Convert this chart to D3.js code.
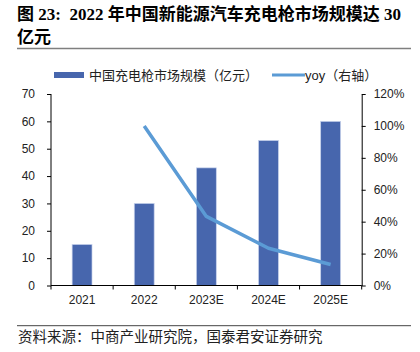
<!DOCTYPE html>
<html>
<head>
<meta charset="utf-8">
<script src="https://cdn.jsdelivr.net/npm/d3@7"></script>
<style>
  body { margin: 0; background: #fff; }
  svg text { font-family: "Liberation Sans", Arial, "Noto Sans CJK SC", sans-serif; }
  .axis path, .axis line { stroke: #000; }
  .axis text { font-size: 12px; fill: #222; }
</style>
</head>
<body>
<div id="chart"></div>
<script>
const years = ['2021', '2022', '2023E', '2024E', '2025E'];
const marketSize = [15, 30, 43, 53, 60];          // 亿元
const yoy = [null, 100, 43.3, 23.3, 13.2];        // %
const leftTicks = [0, 10, 20, 30, 40, 50, 60, 70];
const rightTicks = [0, 20, 40, 60, 80, 100, 120];

const width = 420, height = 352;
const plot = { left: 51, right: 361.7, top: 94, bottom: 285.5 };

const svg = d3.select('#chart').append('svg')
    .attr('width', width)
    .attr('height', height);

// title
const title = svg.append('text')
    .attr('font-weight', 'bold')
    .attr('font-size', '17px')
    .attr('fill', '#000')
    .style('white-space', 'pre')
    .style('font-family', '"Liberation Serif", "Noto Sans CJK SC", serif');
title.append('tspan').attr('x', 17).attr('y', 20)
    .text('图 23:  2022 年中国新能源汽车充电枪市场规模达 30');
title.append('tspan').attr('x', 17).attr('y', 43).text('亿元');

svg.append('line')
    .attr('x1', 17).attr('x2', 411)
    .attr('y1', 48.5).attr('y2', 48.5)
    .attr('stroke', '#7f7f7f').attr('stroke-width', 1.5);

// scales
const x = d3.scaleBand().domain(years)
    .range([plot.left, plot.right])
    .paddingInner(0.68).paddingOuter(0.34);
const yL = d3.scaleLinear().domain([0, 70]).range([plot.bottom, plot.top]);
const yR = d3.scaleLinear().domain([0, 120]).range([plot.bottom, plot.top]);

// bars
svg.append('g').selectAll('rect')
    .data(marketSize)
    .enter()
    .append('rect')
    .attr('x', (d, i) => x(years[i]))
    .attr('y', d => yL(d))
    .attr('width', x.bandwidth())
    .attr('height', d => yL(0) - yL(d))
    .attr('fill', '#4766ad')
    .attr('stroke', '#c7d2ec')
    .attr('stroke-width', 0.7);

// yoy line
const line = d3.line()
    .defined(d => d != null)
    .x((d, i) => x(years[i]) + x.bandwidth() / 2)
    .y(d => yR(d));
svg.append('path')
    .datum(yoy)
    .attr('d', line)
    .attr('fill', 'none')
    .attr('stroke', '#5b9bd5')
    .attr('stroke-width', 3.5)
    .attr('stroke-linejoin', 'round');

// axes
svg.append('g')
    .attr('class', 'axis')
    .attr('transform', 'translate(' + plot.left + ',0)')
    .call(d3.axisLeft(yL).tickValues(leftTicks).tickSize(4).tickPadding(12).tickSizeOuter(0))
    .select('.domain').attr('d', 'M0,' + plot.bottom + 'V' + plot.top);

svg.append('g')
    .attr('class', 'axis')
    .attr('transform', 'translate(' + plot.right + ',0)')
    .call(d3.axisRight(yR).tickValues(rightTicks).tickSize(4).tickPadding(8)
        .tickFormat(d => d + '%').tickSizeOuter(0));

const xAxis = svg.append('g')
    .attr('class', 'axis')
    .attr('transform', 'translate(0,' + plot.bottom + ')')
    .call(d3.axisBottom(x).tickSize(0).tickPadding(10));
xAxis.select('.domain').attr('d', 'M' + plot.left + ',0H' + plot.right);
xAxis.selectAll('.bound')
    .data(d3.range(years.length + 1))
    .enter()
    .append('line')
    .attr('x1', i => plot.left + i * x.step())
    .attr('x2', i => plot.left + i * x.step())
    .attr('y1', 0).attr('y2', 4)
    .attr('stroke', '#000');

// legend
const legend = svg.append('g').attr('font-size', '13px').attr('fill', '#222');
legend.append('rect')
    .attr('x', 54).attr('y', 72).attr('width', 30).attr('height', 6)
    .attr('fill', '#4766ad');
legend.append('text').attr('x', 89).attr('y', 79.5)
    .attr('fill', '#222')
    .text('中国充电枪市场规模（亿元）');
legend.append('line')
    .attr('x1', 272).attr('x2', 305).attr('y1', 75).attr('y2', 75)
    .attr('stroke', '#5b9bd5').attr('stroke-width', 3);
legend.append('text').attr('x', 305).attr('y', 79.5)
    .attr('fill', '#222')
    .text('yoy（右轴）');

// source
svg.append('line')
    .attr('x1', 17).attr('x2', 411)
    .attr('y1', 325.7).attr('y2', 325.7)
    .attr('stroke', '#444').attr('stroke-width', 1);
svg.append('text')
    .attr('x', 18).attr('y', 342)
    .attr('font-size', '14.5px')
    .attr('fill', '#222')
    .style('font-family', '"Noto Sans CJK SC", sans-serif')
    .text('资料来源：中商产业研究院，国泰君安证券研究');
</script>
</body>
</html>
